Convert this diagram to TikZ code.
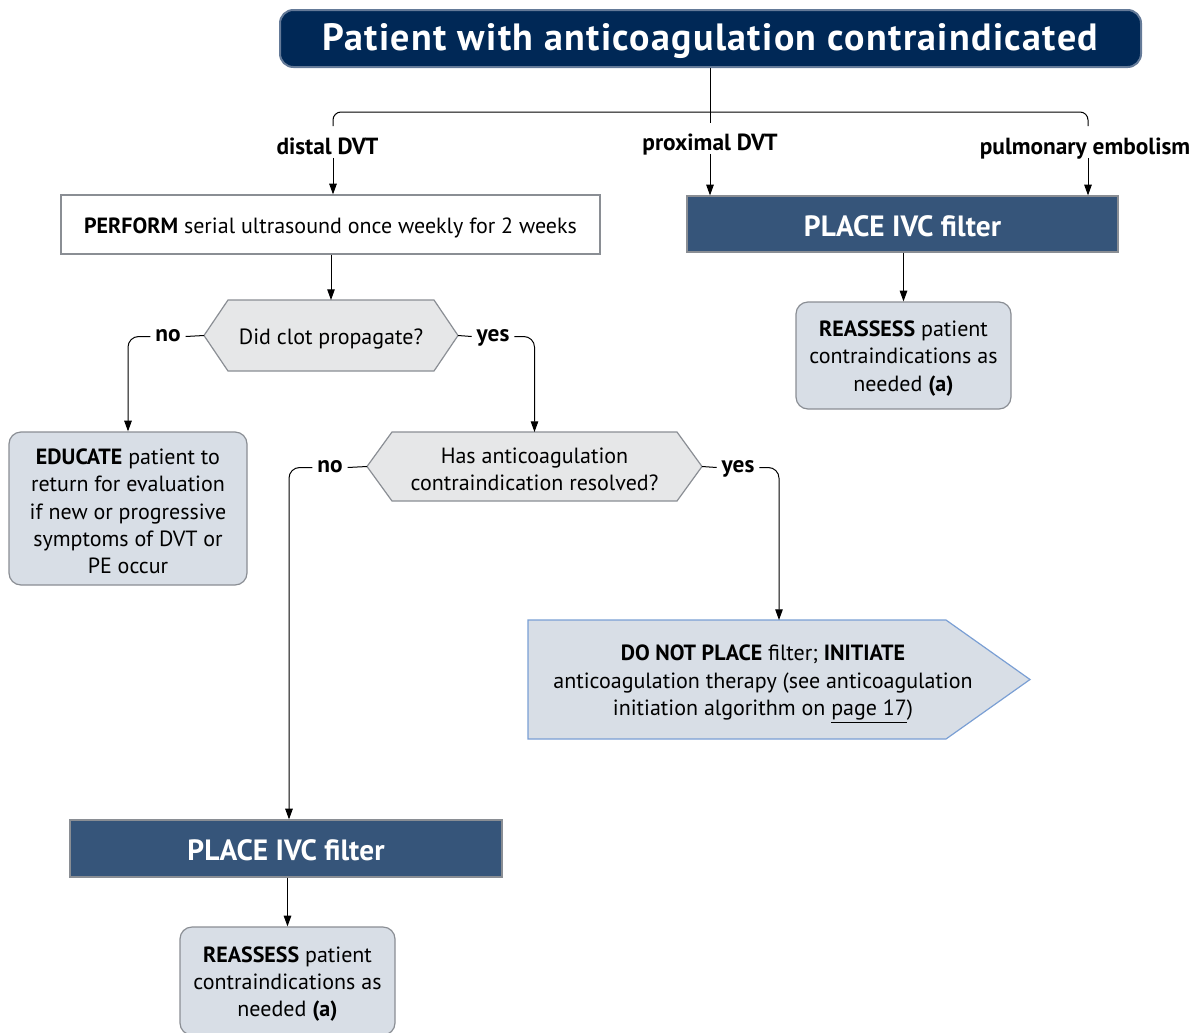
\documentclass[tikz,border=0pt]{standalone}
\usepackage{fontspec}
\setmainfont{PT Sans}
\newfontfamily\titlefont[LetterSpace=3.5]{PT Sans}
\usetikzlibrary{arrows.meta,calc}

% one drawing unit
\newdimen\pxu
\pxu=0.75pt

\definecolor{navy}{RGB}{0,40,86}
\definecolor{navyedge}{RGB}{100,122,152}
\definecolor{filterblue}{RGB}{54,85,122}
\definecolor{actfill}{RGB}{216,222,230}
\definecolor{boxedge}{RGB}{138,142,148}
\definecolor{qfill}{RGB}{230,231,232}
\definecolor{tipedge}{RGB}{122,159,212}

\tikzset{
  body/.style={font=\fontsize{16.5pt}{20.4pt}\selectfont, align=center},
  % box text sits a little below the geometric centre
  boxtext/.style={label={[body, inner sep=0pt, yshift=-2.2pt]center:{#1}}},
  titlebox/.style={draw=navyedge, line width=1.5pt, fill=navy, rounded corners=10pt,
    minimum width=861\pxu, minimum height=57\pxu, inner sep=0pt,
    label={[inner sep=0pt, yshift=-2pt, text=white,
      font=\titlefont\fontsize{28.5pt}{30pt}\selectfont\bfseries]center:{#1}}},
  plainbox/.style={draw=boxedge, line width=0.9pt, fill=white, inner sep=0pt},
  filterbox/.style={draw=boxedge, line width=0.9pt, fill=filterblue, inner sep=0pt,
    label={[inner sep=0pt, yshift=-1.5pt, text=white,
      font=\fontsize{22pt}{24pt}\selectfont\bfseries]center:{#1}}},
  actbox/.style={draw=boxedge, line width=0.9pt, fill=actfill, rounded corners=9pt, inner sep=0pt},
  frame/.style={inner sep=0pt, outer sep=0pt},
  hexshape/.style={draw=boxedge, line width=0.9pt, fill=qfill},
  tipshape/.style={draw=tipedge, line width=0.9pt, fill=actfill},
  lbl/.style={font=\fontsize{17.5pt}{20pt}\selectfont\bfseries, inner xsep=3.5pt, inner ysep=2pt,
    text height=1.45ex, text depth=0.05ex},
  conn/.style={line width=0.75pt, draw=black},
  arr/.style={conn, -{Triangle[length=8pt,width=5.6pt]}},
}

\begin{document}
\begin{tikzpicture}[x=0.75pt,y=-0.75pt]
\useasboundingbox (0,0) rectangle (1196,1032);

% title and the three presentations
\node[titlebox={Patient with anticoagulation contraindicated}] (title) at (710.5,38.5) {};
\coordinate (brL) at (333,126);
\coordinate (brM) at (710.5,112);
\coordinate (brR) at (1088,126);
\coordinate (stem) at (710.5,123);
\draw[conn, rounded corners=6pt] (brL) |- (brM) -| (brR);
\draw[conn] (title.south) -- (stem);

\node[lbl] (distal) at (327.5,150) {distal DVT};
\node[lbl] (proximal) at (710,146) {proximal DVT};
\node[lbl] (pe) at (1085,150) {pulmonary embolism};

% distal branch
\node[plainbox, minimum width=539\pxu, minimum height=59\pxu,
  boxtext={\textbf{PERFORM} serial ultrasound once weekly for 2 weeks}] (perform) at (330.5,224.5) {};
\draw[arr] (distal.south -| brL) -- (brL |- perform.north);

\node[frame, minimum width=254\pxu, minimum height=71\pxu] (q1f) at (331,335.5) {};
\draw[hexshape] (q1f.west) -- ($(q1f.north west)+(24,0)$) -- ($(q1f.north east)+(-24,0)$)
  -- (q1f.east) -- ($(q1f.south east)+(-24,0)$) -- ($(q1f.south west)+(24,0)$) -- cycle;
\node[body] (q1) at ($(q1f.center)+(0,3)$) {Did clot propagate?};
\draw[arr] (perform.south -| q1f.north) -- (q1f.north);

\node[lbl] (q1no) at (168,336.5) {no};
\node[lbl] (q1yes) at (493,336.5) {yes};

\node[actbox, minimum width=238\pxu, minimum height=153\pxu,
  boxtext={\textbf{EDUCATE} patient to\\return for evaluation\\if new or progressive\\symptoms of DVT or\\PE occur}]
  (educate) at (128,508.5) {};

\node[frame, minimum width=335\pxu, minimum height=69\pxu] (q2f) at (534.5,466.5) {};
\draw[hexshape] (q2f.west) -- ($(q2f.north west)+(25,0)$) -- ($(q2f.north east)+(-25,0)$)
  -- (q2f.east) -- ($(q2f.south east)+(-25,0)$) -- ($(q2f.south west)+(25,0)$) -- cycle;
\node[body] (q2) at ($(q2f.center)+(0,3)$) {Has anticoagulation\\contraindication resolved?};

\draw[conn] (q1f.west) -- (q1no.east);
\draw[arr, rounded corners=8pt] (q1no.west) -| (educate.north);
\draw[conn] (q1f.east) -- (q1yes.west);
\draw[arr, rounded corners=8pt] (q1yes.east) -| (q2f.north);

\node[lbl] (q2no) at (330,467.5) {no};
\node[lbl] (q2yes) at (738,467.5) {yes};

\node[frame, minimum width=502\pxu, minimum height=119\pxu] (dnpf) at (779,679.5) {};
\draw[tipshape] (dnpf.north west) -- ($(dnpf.north east)+(-84,0)$) -- (dnpf.east)
  -- ($(dnpf.south east)+(-84,0)$) -- (dnpf.south west) -- cycle;
\node[body] (dnp) at (763,684)
  {\textbf{DO NOT PLACE} filter; \textbf{INITIATE}\\anticoagulation therapy (see anticoagulation\\initiation algorithm on \underline{page 17})};

\node[filterbox={PLACE IVC filter}, minimum width=432\pxu, minimum height=57\pxu] (filterL) at (286,848.5) {};
\node[actbox, minimum width=215\pxu, minimum height=108\pxu,
  boxtext={\textbf{REASSESS} patient\\contraindications as\\needed \textbf{(a)}}] (reassL) at (287.5,981) {};

\draw[conn] (q2f.west) -- (q2no.east);
\draw[arr, rounded corners=8pt] (q2no.west) -| ($(filterL.north)+(3,0)$);
\draw[conn] (q2f.east) -- (q2yes.west);
\draw[arr, rounded corners=8pt] (q2yes.east) -| (dnpf.north);
\draw[arr] (reassL.north |- filterL.south) -- (reassL.north);

% proximal DVT and pulmonary embolism
\node[filterbox={PLACE IVC filter}, minimum width=431\pxu, minimum height=56\pxu] (filterR) at (902.5,224) {};
\draw[arr] (proximal.south) -- (proximal.south |- filterR.north);
\draw[arr] (pe.south -| brR) -- (brR |- filterR.north);
\node[actbox, minimum width=215\pxu, minimum height=107\pxu,
  boxtext={\textbf{REASSESS} patient\\contraindications as\\needed \textbf{(a)}}] (reassR) at (903.5,355.5) {};
\draw[arr] (reassR.north |- filterR.south) -- (reassR.north);
\end{tikzpicture}
\end{document}
